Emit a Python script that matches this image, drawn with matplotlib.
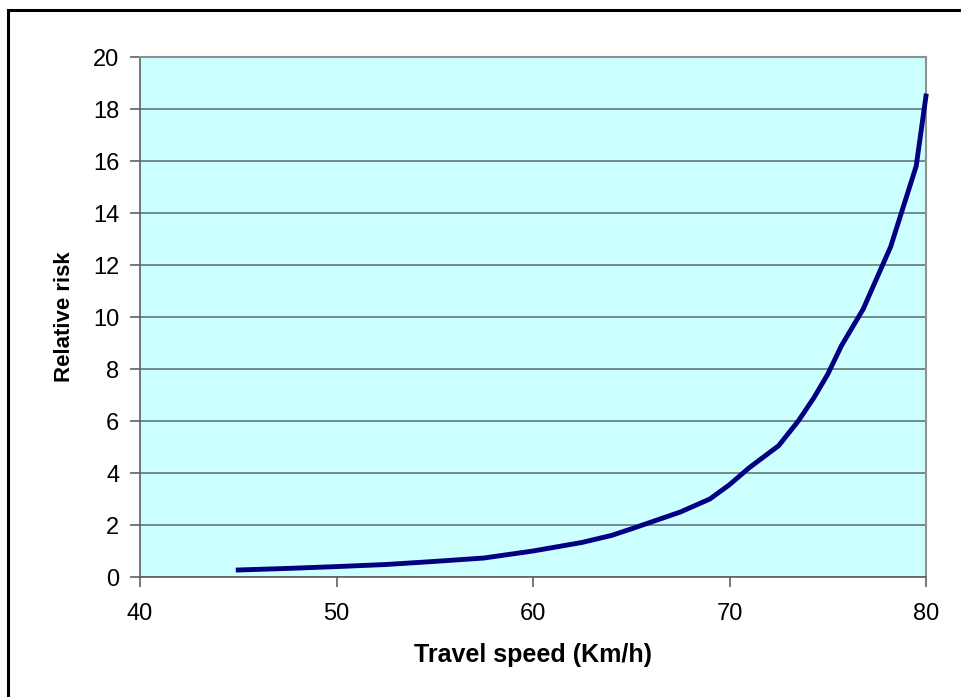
import matplotlib.pyplot as plt
from matplotlib.lines import Line2D

# Relative risk by travel speed
speed = [45, 47.5, 50, 52.5, 55, 57.5, 60, 62.5, 64, 65, 67.5, 69, 70, 71,
         72.5, 73.5, 74.3, 75, 75.7, 76.8, 78.2, 79.5, 80]
risk = [0.27, 0.33, 0.40, 0.48, 0.60, 0.73, 1.00, 1.33, 1.60, 1.85, 2.50,
        3.00, 3.55, 4.20, 5.05, 6.00, 6.90, 7.80, 8.90, 10.30, 12.70, 15.80,
        18.50]

x_ticks = [40, 50, 60, 70, 80]
y_ticks = list(range(0, 21, 2))

plt.rcParams['font.family'] = ['Liberation Sans', 'DejaVu Sans']

fig = plt.figure(figsize=(9.62, 6.97), dpi=100)
ax = fig.add_axes([140 / 962, 1 - 577 / 697, 786 / 962, 520 / 697])
ax.set_facecolor('#CCFFFF')

ax.plot(speed, risk, color='#000080', lw=3.5, clip_on=False, zorder=3,
        solid_joinstyle='miter')

ax.set_xlim(40, 80)
ax.set_ylim(0, 20)
ax.set_xticks(x_ticks)
ax.set_yticks(y_ticks)
ax.yaxis.grid(True, color='#607878', lw=1.2)
ax.set_axisbelow(True)

for side in ['top', 'right']:
    ax.spines[side].set_color('#909090')
    ax.spines[side].set_linewidth(1.5)
for side in ['left', 'bottom']:
    ax.spines[side].set_color('#606060')
    ax.spines[side].set_linewidth(1.2)

ax.tick_params(axis='both', direction='out', length=7, width=1.2,
               color='#606060', labelsize=17, labelcolor='black')
ax.tick_params(axis='x', pad=12)
ax.tick_params(axis='y', pad=8)

ax.set_xlabel('Travel speed (Km/h)', fontsize=18, fontweight='bold', labelpad=13)
ax.set_ylabel('Relative risk', fontsize=16, fontweight='bold', labelpad=13)

# outer frame, only left and top edges are visible
fig.add_artist(Line2D([8 / 962, 8 / 962], [0, 1 - 10 / 697], color='black',
                      lw=2.2, transform=fig.transFigure))
fig.add_artist(Line2D([8 / 962, 1], [1 - 10 / 697, 1 - 10 / 697], color='black',
                      lw=2.2, transform=fig.transFigure))

fig.savefig('out.png', dpi=100)
